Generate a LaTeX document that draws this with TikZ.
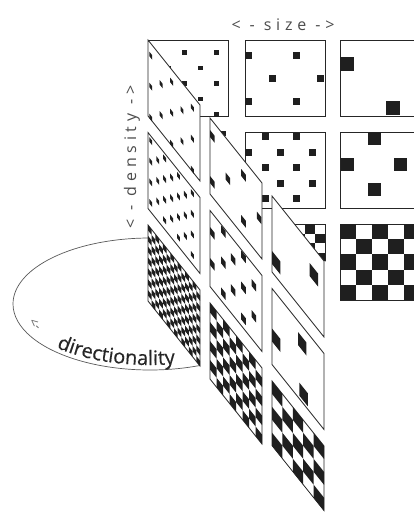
\documentclass[tikz,border=0pt]{standalone}
\usepackage{fontspec}
\setmainfont{Open Sans}
\newfontfamily\lblfont[LetterSpace=30]{Open Sans}
\newfontfamily\dirfont[FakeBold=0.4]{Open Sans}
\usetikzlibrary{decorations.text}
\tikzset{
  cell/.style={draw=black!85, line width=0.8pt, fill=white, line join=miter},
  blk/.style={fill=black!88},
  elline/.style={draw=black!65, line width=0.7pt},
  lbl/.style={text=black!70, font=\lblfont\fontsize{16}{18}\selectfont, inner sep=0pt}
}
\newcommand\sq[3]{\fill[blk] (#1,#2) -- ++(#3,0) -- ++(0,#3) -- ++(-#3,0) -- cycle;}
\newcommand\cellbox{\draw[cell] (0,0) -- (80,0) -- (80,76) -- (0,76) -- cycle;}
% col1 row1: small, sparse
\newcommand\patAa{%
  \foreach \yy in {10,41,72}{\foreach \xx in {2,34,66}{\sq{\xx}{\yy}{4.5}}}%
  \foreach \yy in {25.5,56.5}{\foreach \xx in {18,50}{\sq{\xx}{\yy}{4.5}}}}
% col1 row2: small, dense
\newcommand\patAb{%
  \foreach \yy in {3,23.6,44.2,64.8}{\foreach \xx in {2,23.3,44.7,66}{\sq{\xx}{\yy}{4.5}}}%
  \foreach \yy in {13.3,33.9,54.5}{\foreach \xx in {12.7,34,55.3}{\sq{\xx}{\yy}{4.5}}}}
% col2 row1: medium, sparse
\newcommand\patBa{%
  \foreach \xx/\yy in {0/12,48/12,24/35,72/35,0/58,48/58}{\sq{\xx}{\yy}{7}}}
% col2 row2: medium, dense
\newcommand\patBb{%
  \foreach \yy in {1,32,63}{\foreach \xx in {17,48}{\sq{\xx}{\yy}{7}}}%
  \foreach \yy in {16.5,47.5}{\foreach \xx in {0,32,64}{\sq{\xx}{\yy}{7}}}}
% col3 row1 / row2: large
\newcommand\patCa{\foreach \xx/\yy in {0/17,46/61}{\sq{\xx}{\yy}{14}}}
\newcommand\patCb{\foreach \xx/\yy in {28/0,1/26,54/26,28/51}{\sq{\xx}{\yy}{13}}}
\newcommand\patCas{\foreach \xx/\yy in {0/55,58/20}{\sq{\xx}{\yy}{13}}}
\newcommand\patCbs{\foreach \xx/\yy in {0/40,40/11,42/60}{\sq{\xx}{\yy}{13}}}
% checkerboard n x n
\newcommand\chk[1]{%
  \pgfmathsetmacro\chkw{80/#1}\pgfmathsetmacro\chkh{76/#1}\pgfmathtruncatemacro\chkn{#1-1}%
  \foreach \j in {0,...,\chkn}{\foreach \i in {0,...,\chkn}{%
    \pgfmathtruncatemacro\chkp{mod(\i+\j,2)}%
    \ifnum\chkp=0 \fill[blk] ({\i*\chkw},{\j*\chkh}) rectangle ++(\chkw,\chkh);\fi}}}
\begin{document}
\begin{tikzpicture}[x=1pt,y=-1pt]
\useasboundingbox (0,0) rectangle (414,522);
\fill[white] (0,0) rectangle (414,522);
\begin{scope}
\clip (0,0) rectangle (414,522);
% ---------- front grid ----------
\begin{scope}[shift={(148,40)}]\cellbox\patAa\end{scope}
\begin{scope}[shift={(245,40)}]\cellbox\patBa\end{scope}
\begin{scope}[shift={(245,132)}]\cellbox\patBb\end{scope}
\begin{scope}
  \clip (272,196) -- (330,196) -- (330,262) -- (324,261) -- cycle;
  \begin{scope}[shift={(245,224)}]\cellbox\chk{8}\end{scope}
\end{scope}
\begin{scope}[shift={(340,40)}]\cellbox\patCa\end{scope}
\begin{scope}[shift={(340,132)}]\cellbox\patCb\end{scope}
\begin{scope}[shift={(340,224)}]\cellbox\chk{5}\end{scope}
\sq{221}{131}{4.5}
% ---------- directionality ellipse ----------
\draw[elline] (150,238) arc[start angle=270, end angle=68.6, x radius=137, y radius=66];
% ---------- sheared planes ----------
\begin{scope}[shift={(148,40)},yslant=-1.25,xscale=0.65]\cellbox\patAa\end{scope}
\begin{scope}[shift={(148,132.5)},yslant=-1.25,xscale=0.65]\cellbox\patAb\end{scope}
\begin{scope}[shift={(148,225)},yslant=-1.25,xscale=0.65]\cellbox\chk{14}\end{scope}
\begin{scope}[shift={(210,118)},yslant=-1.25,xscale=0.65]\cellbox\patBa\end{scope}
\begin{scope}[shift={(210,210.5)},yslant=-1.25,xscale=0.65]\cellbox\patBb\end{scope}
\begin{scope}[shift={(210,303)},yslant=-1.25,xscale=0.65]\cellbox\chk{8}\end{scope}
\begin{scope}[shift={(272,196)},yslant=-1.25,xscale=0.65]\cellbox\patCas\end{scope}
\begin{scope}[shift={(272,288.5)},yslant=-1.25,xscale=0.65]\cellbox\patCbs\end{scope}
\begin{scope}[shift={(272,381)},yslant=-1.25,xscale=0.65,yscale=0.85]\cellbox\chk{5}\end{scope}
\end{scope}
% ---------- labels ----------
\node[lbl] (size) at (283,25) {< - size ->};
\node[lbl, rotate=90] (dens) at (132,157) {< - density ->};
\node[text=black!60, font=\fontsize{13}{14}\selectfont, rotate=-42, inner sep=0pt] (arrw) at (35,324) {<-};
\path[decorate, decoration={text along path, text={|\dirfont\fontsize{20}{23}\selectfont|directionality}, text color=black!85, text align=center}]
  (49.7,344.5) arc[start angle=138, end angle=76, x radius=135, y radius=62];
\end{tikzpicture}
\end{document}
